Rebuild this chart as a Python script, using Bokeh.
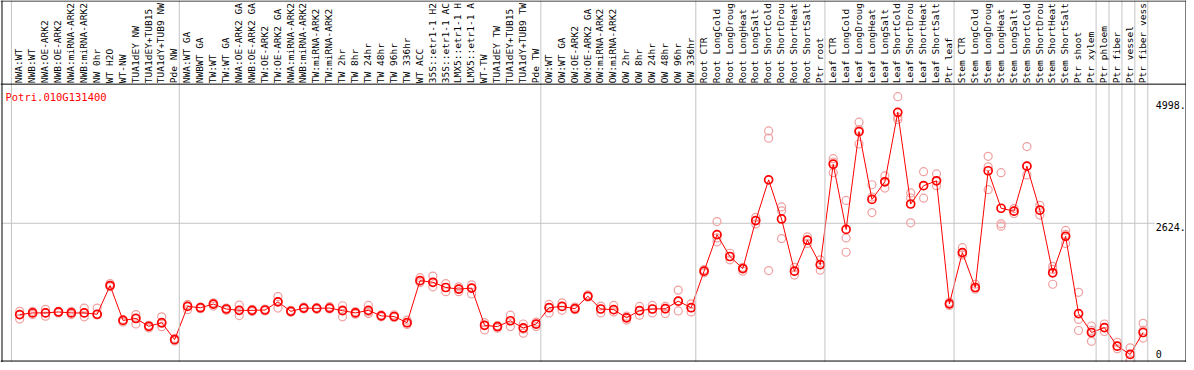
import numpy as np
from bokeh.plotting import figure
from bokeh.models import Range1d, Span, ColumnDataSource
from bokeh.embed import file_html
from bokeh.resources import INLINE
from bokeh.core.properties import value

gene = "Potri.010G131400"

# category labels as they appear (cut at the header top) in the reference
categories = [
    # NW
    "NWA:WT", "NWB:WT", "NWA:OE-ARK2", "NWB:OE-ARK2", "NWA:miRNA-ARK2", "NWB:miRNA-ARK2",
    "NW 0hr", "WT H2O", "WT-NW", "TUA1dEY NW", "TUA1dEY+TUB15", "TUA1dY+TUB9 NW", "Pde NW",
    # GA / TW
    "NWA:WT GA", "NWBWT GA", "TW:WT", "TW:WT GA", "NWA:OE-ARK2 GA", "NWB:OE-ARK2 GA",
    "TW:OE-ARK2", "TW:OE-ARK2 GA", "NWA:miRNA-ARK2", "NWB:miRNA-ARK2", "TW:miRNA-ARK2",
    "TW:miRNA-ARK2", "TW 2hr", "TW 8hr", "TW 24hr", "TW 48hr", "TW 96hr", "TW 336hr",
    "WT ACC", "35S::etr1-1 H2", "35S::etr1-1 AC", "LMX5::etr1-1 H", "LMX5::etr1-1 A",
    "WT-TW", "TUA1dEY TW", "TUA1dEY+TUB15", "TUA1dY+TUB9 TW", "Pde TW",
    # OW
    "OW:WT", "OW:WT GA", "OW:OE-ARK2", "OW:OE-ARK2 GA", "OW:miRNA-ARK2", "OW:miRNA-ARK2",
    "OW 2hr", "OW 8hr", "OW 24hr", "OW 48hr", "OW 96hr", "OW 336hr",
    # Root
    "Root CTR", "Root LongCold", "Root LongDroug", "Root LongHeat", "Root LongSalt",
    "Root ShortCold", "Root ShortDrou", "Root ShortHeat", "Root ShortSalt", "Ptr root",
    # Leaf
    "Leaf CTR", "Leaf LongCold", "Leaf LongDroug", "Leaf LongHeat", "Leaf LongSalt",
    "Leaf ShortCold", "Leaf ShortDrou", "Leaf ShortHeat", "Leaf ShortSalt", "Ptr leaf",
    # Stem
    "Stem CTR", "Stem LongCold", "Stem LongDroug", "Stem LongHeat", "Stem LongSalt",
    "Stem ShortCold", "Stem ShortDrou", "Stem ShortHeat", "Stem ShortSalt", "Ptr shoot",
    "Ptr xylem",
    "Ptr phloem", "Ptr fiber", "Ptr vessel", "Ptr fiber vess",
]

group_sizes = [13, 28, 12, 10, 10, 11, 1, 1, 1, 1]

means = [
    797, 830, 830, 849, 830, 830, 803, 1378, 680, 718, 562, 634, 294,
    960, 934, 1006, 908, 881, 881, 888, 1051, 862, 927, 921, 927, 875, 830, 881, 771, 758, 634,
    1476, 1443, 1339, 1306, 1326, 582, 556, 673, 529, 607,
    934, 960, 914, 1163, 908, 895, 732, 875, 908, 914, 1065, 934,
    1665, 2396, 1959, 1717, 2677, 3493, 2710, 1665, 2285, 1796,
    3806, 2501, 4459, 3101, 3454, 4844, 3010, 3376, 3474, 1012,
    2037, 1339, 3675, 2925, 2866, 3767, 2886, 1633, 2363, 817, 438,
    536, 164, 0, 438,
]

rep1 = [
    862, 862, 901, 862, 862, 927, 927, 1417, 699, 797, 582, 751, 320,
    999, 947, 1032, 927, 986, 901, 908, 1156, 882, 947, 940, 954, 973, 856, 980, 790, 790, 686,
    1535, 1567, 1417, 1352, 1391, 634, 575, 784, 608, 647,
    999, 1032, 947, 1189, 967, 980, 764, 960, 980, 960, 1286, 1012,
    1698, 2657, 2024, 1743, 2742, 4472, 2951, 1743, 2350, 1893,
    3916, 3082, 4648, 3395, 3572, 5158, 3231, 3656, 3611, 1045,
    2135, 1404, 3963, 3636, 2918, 4159, 2984, 1762, 2481, 1241, 568,
    608, 242, 131, 621,
]

rep2 = [
    706, 797, 764, 830, 797, 751, 803, 1352, 647, 608, 529, 555, 268,
    895, 914, 967, 882, 777, 856, 869, 927, 843, 908, 901, 908, 751, 803, 816, 751, 740, 600,
    1437, 1352, 1254, 1254, 1208, 490, 523, 556, 425, 556,
    830, 882, 895, 1143, 830, 849, 686, 784, 830, 816, 869, 849,
    1632, 2252, 1893, 1665, 2611, 4328, 2873, 1587, 2220, 1685,
    3636, 2330, 4210, 2839, 3329, 4700, 2632, 3127, 3376, 980,
    1991, 1306, 3754, 2612, 2820, 3591, 2788, 1404, 2220, 699, 262,
    458, 112, -110, 327,
]

rep3 = [
    797, 830, 830, 849, 830, 830, 790, 1378, 680, 730, 562, 620, 294,
    970, 934, 1006, 908, 881, 881, 888, 1051, 862, 927, 921, 927, 890, 830, 850, 771, 758, 634,
    1476, 1443, 1339, 1306, 1326, 582, 556, 673, 505, 607,
    934, 960, 914, 1163, 908, 895, 732, 875, 908, 914, 1065, 934,
    1665, 2330, 1959, 1717, 2677, 1678, 2318, 1665, 2285, 1796,
    3850, 2044, 4500, 3150, 3454, 4750, 3130, 3376, 3474, 1012,
    2037, 1339, 3297, 2565, 2866, 3767, 2886, 1700, 2400, 478, 480,
    536, 164, 0, 480,
]

tick_values = [0, 2624, 4998]
tick_labels = ["0", "2624.", "4998."]

# ---- geometry (pixel layout of the reference, fitted into 1186 x 362) ----
W, H = 1186, 362
col_px = 13.0            # column width in reference pixels
x_center0 = 17.5         # reference x of first column centre
y_zero = 361.7           # reference y of value 0
px_per_unit = 0.05107    # reference pixels per expression unit

def xdata(ref_x):
    return (ref_x - x_center0) / col_px

def ydata(ref_y):
    return (y_zero - ref_y) / px_per_unit

x_range = Range1d(xdata(0), xdata(1194))
y_range = Range1d(ydata(370), ydata(0))

p = figure(width=W, height=H, x_range=x_range, y_range=y_range,
           output_backend="svg", toolbar_location=None, min_border=0,
           outline_line_color=None, background_fill_color="white",
           border_fill_color="white")
p.axis.visible = False
p.xgrid.visible = False
p.ygrid.visible = False

n = len(categories)
idx = np.arange(n)
pt_off = 0.14
xs = idx + pt_off

# vertical grey group separators
bounds = np.concatenate([[0], np.cumsum(group_sizes)]) - 0.5
for b in bounds:
    p.add_layout(Span(location=float(b), dimension="height", line_color="#c4c4c4", line_width=1))

# horizontal grid line at middle tick
p.segment(x0=[xdata(1.5)], y0=[tick_values[1]], x1=[xdata(1162)], y1=[tick_values[1]],
          line_color="#c4c4c4", line_width=1)

# black frame lines
header_y = ydata(85.5)
for loc in [header_y, ydata(368.5), ydata(0.5)]:
    p.add_layout(Span(location=loc, dimension="width", line_color="black", line_width=1))
for loc in [xdata(1.5), xdata(1193.5)]:
    p.add_layout(Span(location=loc, dimension="height", line_color="black", line_width=1))

# category labels in header
lab_src = ColumnDataSource(dict(x=idx + 0.08, y=[ydata(84.5)] * n, text=categories))
p.text(x="x", y="y", text="text", source=lab_src, angle=np.pi / 2,
       text_align="left", text_baseline="middle",
       text_font=value("DejaVu Sans Mono"), text_font_size=value("9.5px"),
       text_color="black")

# replicates
rep_color = "#f0a0a0"
for r in (rep1, rep2, rep3):
    p.scatter(x=xs, y=r, marker="circle", size=8, fill_color=None,
              line_color=rep_color, line_width=1.2)

# mean line and markers
p.line(x=xs, y=means, line_color="#ff0000", line_width=1)
p.scatter(x=xs, y=means, marker="circle", size=8, fill_color=None,
          line_color="#ff0000", line_width=1.7)

# gene title
p.text(x=[xdata(5)], y=[ydata(92)], text=[gene], text_align="left", text_baseline="top",
       text_font=value("DejaVu Sans Mono"), text_font_size=value("10.5px"),
       text_color="#ff0000")

# value labels on the right
p.text(x=[xdata(1163)] * 3, y=tick_values, text=tick_labels,
       text_align="left", text_baseline="middle", y_offset=[0, 4, 0],
       text_font=value("DejaVu Sans Mono"), text_font_size=value("10px"),
       text_color="black")

open("out.html", "w").write(file_html(p, INLINE))
